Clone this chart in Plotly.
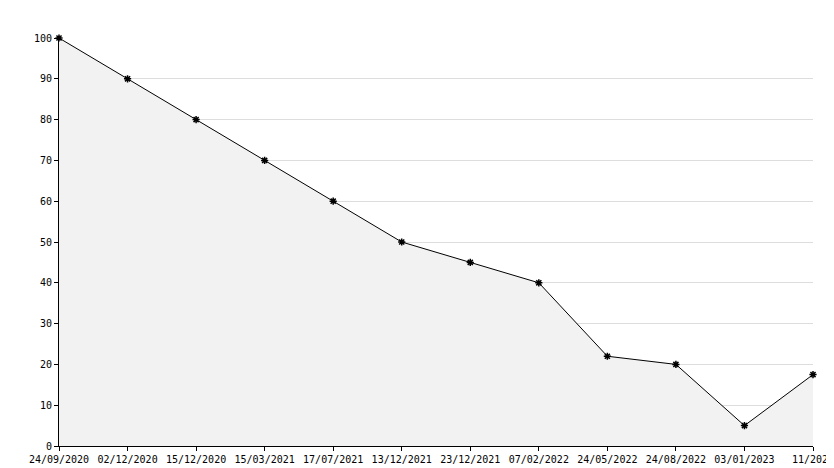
import plotly.graph_objects as go

labels = ["24/09/2020","02/12/2020","15/12/2020","15/03/2021","17/07/2021","13/12/2021",
          "23/12/2021","07/02/2022","24/05/2022","24/08/2022","03/01/2023","11/2025"]
values = [100, 90, 80, 70, 60, 50, 45, 40, 22, 20, 5, 17.5]
idx = list(range(len(labels)))

fig = go.Figure(go.Scatter(
    x=idx, y=values, mode="lines+markers", fill="tozeroy", fillcolor="#f2f2f2",
    line=dict(color="black", width=1), cliponaxis=False,
    marker=dict(symbol="asterisk", size=6, color="black", line=dict(color="black", width=1.5)),
))
font = dict(family="DejaVu Sans Mono", size=10, color="black")
fig.update_layout(
    width=834, height=468, margin=dict(l=51, r=29, t=30, b=30, autoexpand=False),
    plot_bgcolor="white", paper_bgcolor="white", showlegend=False, font=font,
    xaxis=dict(range=[0, 11], tickvals=idx, ticktext=labels, showgrid=False, automargin=False,
               showline=True, linecolor="black", ticks="outside", ticklen=4,
               tickcolor="black", zeroline=False),
    yaxis=dict(range=[0, 100], dtick=10, showgrid=True, gridcolor="#dddddd", automargin=False,
               showline=True, linecolor="black", ticks="outside", ticklen=4,
               tickcolor="black", zeroline=False),
)
fig.write_html("out.html")
